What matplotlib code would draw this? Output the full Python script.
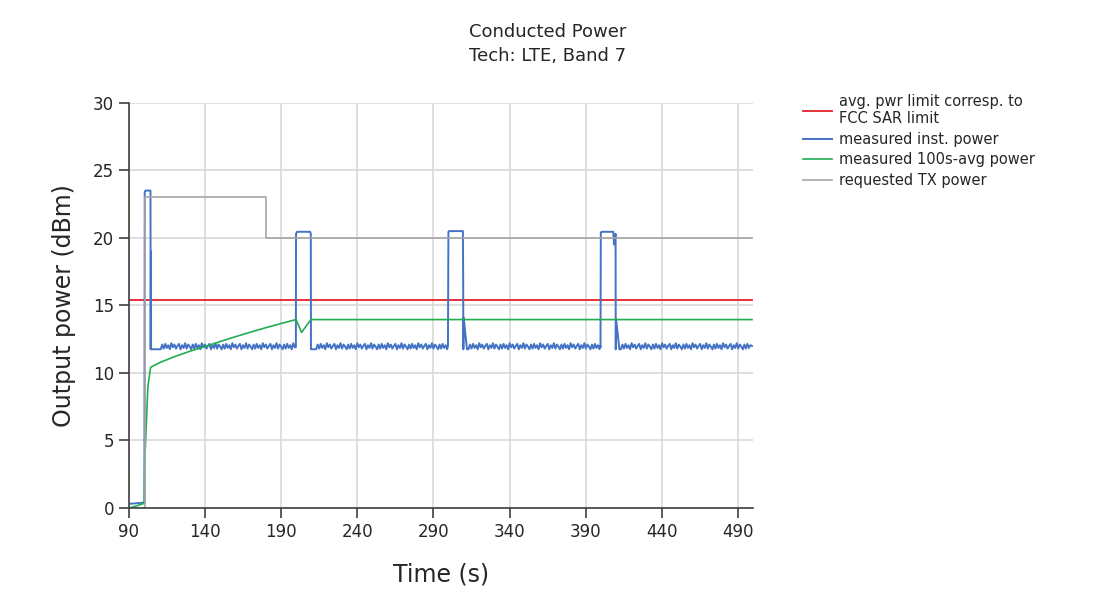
import numpy as np
import matplotlib
matplotlib.use("Agg")
import matplotlib.pyplot as plt

# chart data (time in s, power in dBm)
x_ticks = [90, 140, 190, 240, 290, 340, 390, 440, 490]
y_ticks = [0, 5, 10, 15, 20, 25, 30]

limit_t = [90, 499]
limit_v = [15.4, 15.4]

req_t = [90, 100.4, 100.4, 180, 180, 499]
req_v = [0, 0, 23, 23, 20, 20]

# instantaneous power: step shape anchors
inst_t = [90, 95, 100.3, 100.5, 101, 104.3, 104.4, 104.6, 104.7, 110,
          199.5, 199.7, 199.8, 200.5, 209.0, 209.5, 209.6, 210.0, 212,
          299.5, 299.6, 299.8, 300.2, 309.3, 309.5, 309.6, 309.8, 312,
          399.5, 399.6, 399.8, 400.5, 408.0, 408.5, 409.5, 409.6, 409.8, 412,
          499]
inst_v = [0.3, 0.35, 0.4, 23.4, 23.5, 23.5, 11.75, 19.0, 11.75, 11.75,
          11.9, 11.9, 20.3, 20.45, 20.45, 20.3, 11.75, 11.75, 11.75,
          12.0, 15.0, 20.45, 20.5, 20.5, 16.7, 11.75, 14.1, 11.75,
          12.0, 11.9, 20.4, 20.45, 20.45, 19.5, 20.3, 11.75, 14.0, 11.75,
          12.0]
# ripple on the low-power stretches
ripple_win = [(110, 199.5), (212, 299.5), (312, 399.5), (412, 499)]
ripple = [0.0, 0.35, 0.05, 0.4, 0.1, 0.3, 0.0, 0.45, 0.15, 0.35, 0.05, 0.25,
          0.4, 0.0, 0.3, 0.1, 0.45, 0.05, 0.35, 0.2]
low_level = 11.75

avg_t = [90, 95, 100.3, 100.5, 101.6, 102.6, 104.4, 110, 120, 130, 140, 150,
         160, 170, 180, 190, 199.8, 201.5, 203.5, 206, 209.6, 499]
avg_v = [0.0, 0.15, 0.35, 3.4, 6.3, 9.0, 10.42, 10.75, 11.2, 11.6, 11.95,
         12.32, 12.68, 13.02, 13.35, 13.66, 13.95, 13.5, 13.0, 13.4, 13.95,
         13.95]

# build the blue trace: anchors + ripple samples
pts = list(zip(inst_t, inst_v))
for a, b in ripple_win:
    ts = np.arange(a + 1, b, 1.0)
    rv = np.resize(ripple, len(ts))
    pts += list(zip(ts, low_level + rv))
pts.sort(key=lambda p: p[0])
bt = [p[0] for p in pts]
bv = [p[1] for p in pts]

fig = plt.figure(figsize=(11, 6.12), dpi=100)
ax = fig.add_axes([0.117, 0.170, 0.568, 0.662])

ax.plot(limit_t, limit_v, color="#e3202a", lw=1.3,
        label="avg. pwr limit corresp. to\nFCC SAR limit")
ax.plot(bt, bv, color="#4472c4", lw=1.4, label="measured inst. power")
ax.plot(avg_t, avg_v, color="#22ad50", lw=1.2, label="measured 100s-avg power")
ax.plot(req_t, req_v, color="#a5a5a5", lw=1.2, label="requested TX power")

ax.set_xlim(90, 500)
ax.set_ylim(0, 30)
ax.set_xticks(x_ticks)
ax.set_yticks(y_ticks)
ax.grid(True, color="#d9d9d9", lw=1.2)
ax.set_axisbelow(True)
for s in ["top", "right"]:
    ax.spines[s].set_visible(False)
for s in ["left", "bottom"]:
    ax.spines[s].set_color("#404040")
    ax.spines[s].set_linewidth(1.2)
ax.tick_params(length=7, width=1.2, color="#404040", labelsize=12,
               labelcolor="#262626")

ax.set_xlabel("Time (s)", fontsize=17, color="#262626", labelpad=16)
ax.set_ylabel("Output power (dBm)", fontsize=17, color="#262626", labelpad=12)

fig.text(0.498, 0.928, "Conducted Power\nTech: LTE, Band 7", ha="center",
         va="center", fontsize=13, color="#262626", linespacing=1.45)

fig.legend(loc="upper left", bbox_to_anchor=(0.718, 0.868), frameon=False,
           fontsize=10.5, handlelength=2.0, handletextpad=0.5,
           labelspacing=0.38, labelcolor="#262626")

fig.savefig("out.png", dpi=100)
